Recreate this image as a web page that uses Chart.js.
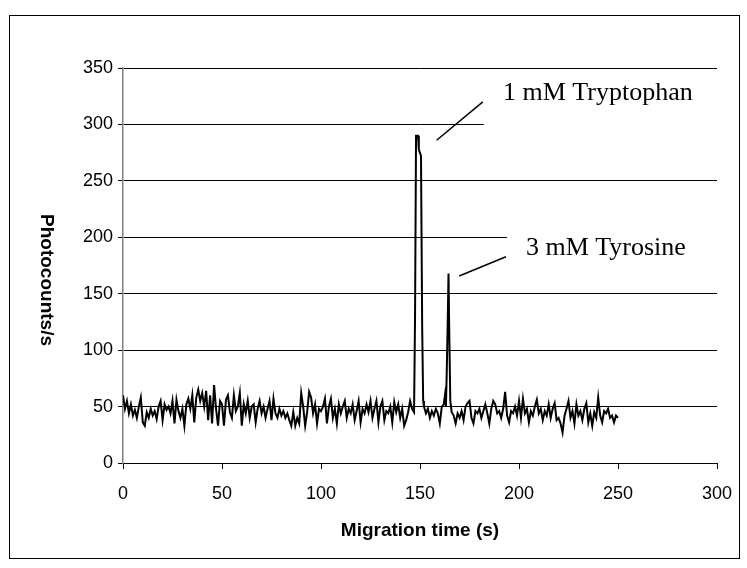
<!DOCTYPE html>
<html>
<head>
<meta charset="utf-8">
<script src="https://cdn.jsdelivr.net/npm/chart.js@4.4.0/dist/chart.umd.min.js"></script>
<style>
  body { margin: 0; background: #fff; }
  #wrap { width: 747px; height: 568px; }
</style>
</head>
<body>
<div id="wrap"><canvas id="chart" width="747" height="568"></canvas></div>
<script>
// baseline before the tryptophan peak, one reading per second from t = 0
const startA = 0;
const countsA = [
  60, 48, 55, 44, 52, 42, 47, 40, 50, 58,
  36, 33, 45, 40, 48, 42, 46, 39, 50, 55,
  38, 52, 47, 50, 44, 55, 35, 56, 46, 40,
  48, 33, 52, 57, 48, 60, 36, 58, 65, 55,
  62, 50, 64, 38, 60, 35, 69, 48, 33, 55,
  52, 33, 56, 60, 45, 40, 60, 46, 50, 62,
  33, 52, 44, 55, 40, 50, 52, 36, 48, 55,
  44, 50, 40, 48, 55, 38, 57, 44, 40, 48,
  42, 46, 40, 44, 38, 33, 45, 33, 40, 35,
  62, 50, 33, 45, 63, 58, 44, 52, 35, 48,
  46, 50, 57, 35, 50, 57, 40, 48, 35, 52,
  44, 50, 55, 40, 48, 44, 52, 38, 46, 55,
  36, 48, 44, 52, 45, 55, 40, 48, 55, 36,
  50, 55, 38, 46, 44, 50, 36, 54, 45, 52,
  40, 48, 33, 38, 45, 55, 48
];

// tryptophan peak
const peak1Times  = [147, 147.5, 148, 149, 149.4, 150.5, 151.1, 151.6];
const peak1Counts = [45, 130, 290, 290, 278, 272, 120, 55];

// baseline between the peaks, from t = 152
const startB = 152;
const countsB = [50, 44, 48, 40, 46, 42, 48, 44, 35, 50, 52];

// tyrosine peak
const peak2Times  = [162.6, 163.1, 163.5, 164.0, 164.4, 164.7, 165.3, 166.0];
const peak2Counts = [60, 50, 80, 125, 168, 125, 55, 45];

// baseline after the peaks, from t = 167
const startC = 167;
const countsC = [
  42, 35, 44, 40, 46, 38, 50, 53, 55, 40,
  35, 46, 44, 48, 40, 46, 52, 44, 35, 48,
  55, 52, 44, 46, 40, 48, 63, 42, 36, 46,
  44, 50, 42, 55, 40, 57, 44, 48, 36, 46,
  42, 50, 56, 44, 48, 38, 46, 42, 52, 40,
  48, 53, 38, 40, 35, 27, 42, 48, 55, 40,
  46, 35, 52, 42, 46, 38, 48, 53, 36, 44,
  33, 45, 40, 58, 42, 36, 46, 44, 48, 40,
  42, 36, 42, 40
];

const xTicks = [0, 50, 100, 150, 200, 250, 300];
const yTicks = [0, 50, 100, 150, 200, 250, 300, 350];

// annotation labels, anchored in data units
const labels = [
  { text: '1 mM Tryptophan', x: 191.9, y: 321.6, boxX: 181.7, boxTop: 340, boxBottom: 270,
    lead: [[158.4, 286], [181.7, 320]] },
  { text: '3 mM Tyrosine', x: 203.5, y: 184.3, boxX: 193.4, boxTop: 212, boxBottom: 172,
    lead: [[169.8, 165.7], [193.4, 182.8]] }
];

const points = [];
countsA.forEach((v, i) => points.push({ x: startA + i, y: v }));
peak1Times.forEach((t, i) => points.push({ x: t, y: peak1Counts[i] }));
countsB.forEach((v, i) => points.push({ x: startB + i, y: v }));
peak2Times.forEach((t, i) => points.push({ x: t, y: peak2Counts[i] }));
countsC.forEach((v, i) => points.push({ x: startC + i, y: v }));

const sans = '"Liberation Sans", Arial, sans-serif';
const serif = '"Liberation Serif", "Times New Roman", serif';

const decor = {
  id: 'decor',
  beforeDraw(chart) {
    const ctx = chart.ctx;
    ctx.save();
    ctx.fillStyle = '#fff';
    ctx.fillRect(0, 0, chart.width, chart.height);
    ctx.restore();
  },
  beforeDatasetsDraw(chart) {
    // white text boxes hide the gridlines behind the labels
    const { ctx, scales: { x, y } } = chart;
    ctx.save();
    ctx.fillStyle = '#fff';
    labels.forEach(l => {
      const left = x.getPixelForValue(l.boxX) + 1;
      const top = y.getPixelForValue(l.boxTop);
      const bottom = y.getPixelForValue(l.boxBottom);
      ctx.fillRect(left, top, chart.width - left - 10, bottom - top);
    });
    ctx.restore();
  },
  afterDraw(chart) {
    const { ctx, scales: { x, y } } = chart;
    ctx.save();
    ctx.fillStyle = '#000';
    ctx.strokeStyle = '#000';
    ctx.lineWidth = 1.5;
    ctx.font = '26px ' + serif;
    ctx.textBaseline = 'alphabetic';
    ctx.textAlign = 'left';
    labels.forEach(l => {
      ctx.fillText(l.text, x.getPixelForValue(l.x), y.getPixelForValue(l.y));
      ctx.beginPath();
      ctx.moveTo(x.getPixelForValue(l.lead[0][0]), y.getPixelForValue(l.lead[0][1]));
      ctx.lineTo(x.getPixelForValue(l.lead[1][0]), y.getPixelForValue(l.lead[1][1]));
      ctx.stroke();
    });

    // axis titles
    ctx.font = 'bold 19px ' + sans;
    ctx.textAlign = 'center';
    ctx.textBaseline = 'middle';
    ctx.fillText('Migration time (s)', 420, 531);
    ctx.translate(46, 280);
    ctx.rotate(Math.PI / 2);
    ctx.fillText('Photocounts/s', 0, 0);
    ctx.restore();

    // outer frame
    ctx.save();
    ctx.strokeStyle = '#000';
    ctx.lineWidth = 1;
    ctx.strokeRect(9.5, 15.5, 730, 543);
    ctx.restore();
  }
};

new Chart(document.getElementById('chart'), {
  type: 'line',
  data: {
    datasets: [{
      data: points,
      borderColor: '#000',
      borderWidth: 2,
      pointRadius: 0,
      tension: 0,
      fill: false
    }]
  },
  options: {
    responsive: false,
    animation: false,
    layout: { padding: { left: 0, right: 30, top: 68, bottom: 0 } },
    plugins: { legend: { display: false }, tooltip: { enabled: false } },
    scales: {
      x: {
        type: 'linear',
        min: 0, max: 300,
        afterBuildTicks: s => { s.ticks = xTicks.map(v => ({ value: v })); },
        afterFit: s => { s.height = 105; },
        ticks: { color: '#000', font: { size: 18, family: sans }, padding: 14, maxRotation: 0 },
        grid: { drawOnChartArea: false, drawTicks: true, tickLength: 6, color: '#000' },
        border: { color: '#000', width: 1 }
      },
      y: {
        min: 0, max: 350,
        afterBuildTicks: s => { s.ticks = yTicks.map(v => ({ value: v })); },
        afterFit: s => { s.width = 123; },
        ticks: { color: '#000', font: { size: 18, family: sans }, padding: 5 },
        grid: { color: '#000', lineWidth: 1, drawTicks: true, tickLength: 5 },
        border: { color: '#808080', width: 1.5 }
      }
    }
  },
  plugins: [decor]
});
</script>
</body>
</html>
